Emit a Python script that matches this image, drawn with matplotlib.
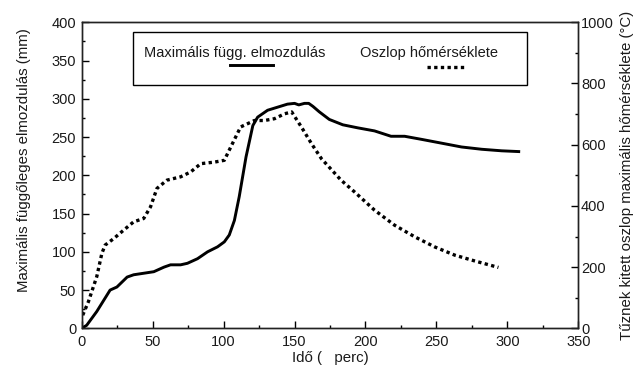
import matplotlib
matplotlib.use("Agg")
import matplotlib.pyplot as plt
from matplotlib.ticker import MultipleLocator
from matplotlib.patches import Rectangle
from matplotlib.lines import Line2D

plt.rcParams['font.family'] = ['Liberation Sans', 'DejaVu Sans']

# Data
time_disp = [0, 3.5, 10.6, 20, 24.8, 32, 36.6, 43.7, 50.8, 58, 62.6, 69.7, 74.5, 81.6,
             88.7, 95.7, 100.5, 104, 107.6, 111, 115.8, 120.6, 124, 131, 138, 145, 150,
             153, 157, 160, 163, 167.4, 174.5, 184, 194.6, 206.4, 218, 227.6, 239.4,
             253.6, 267.7, 282, 296, 308]
disp_mm = [0, 4, 22, 50, 54, 67, 70, 72, 74, 80, 83, 83, 85, 91,
           100, 106.5, 113, 122, 141, 172, 224, 265, 276, 285, 289, 293, 294,
           292, 294, 294, 290, 283, 273, 266, 262, 258, 251, 251, 247,
           242, 237, 234, 232, 231]

time_temp = [0.7, 4.7, 10.6, 14.2, 16.5, 22.5, 29.6, 36.6, 43.7, 48.5, 53, 60, 69.7,
             76.8, 83.9, 93.4, 100.5, 105, 112, 121.7, 128.8, 135.9, 143, 148, 154.8,
             162, 169, 182.8, 192.2, 206.4, 220.5, 234.7, 248.8, 263, 277.1, 293.7]
temp_c = [43, 87, 169, 245, 272, 293, 321, 348, 359, 397, 457, 484, 495,
          511, 538, 543, 549, 592, 658, 679, 679, 685, 701, 707, 658,
          603, 554, 484, 446, 386, 337, 299, 266, 239, 220, 199]

x_ticks = [0, 50, 100, 150, 200, 250, 300, 350]
left_ticks = [0, 50, 100, 150, 200, 250, 300, 350, 400]
right_ticks = [0, 200, 400, 600, 800, 1000]

label_disp = "Maximális függ. elmozdulás"
label_temp = "Oszlop hőmérséklete"

TXT = '#1a1a1a'
DOTS = (0, (1, 1.0))

fig = plt.figure(figsize=(6.4, 3.71), dpi=100)
ax = fig.add_axes([0.1277, 0.115, 0.7759, 0.825])
ax2 = ax.twinx()

ax.plot(time_disp, disp_mm, color='black', lw=2.1, solid_joinstyle='round')
ax2.plot(time_temp, temp_c, color='black', lw=2.4, linestyle=DOTS)

ax.set_xlim(0, 350)
ax.set_ylim(0, 400)
ax2.set_ylim(0, 1000)

ax.set_xticks(x_ticks)
ax.set_yticks(left_ticks)
ax2.set_yticks(right_ticks)
ax.xaxis.set_minor_locator(MultipleLocator(25))
ax.yaxis.set_minor_locator(MultipleLocator(25))
ax2.yaxis.set_minor_locator(MultipleLocator(100))

for a in (ax, ax2):
    for s in a.spines.values():
        s.set_linewidth(1.0)
        s.set_color('#222222')

ax.tick_params(axis='both', which='major', direction='in', length=5, width=1.0,
               labelsize=10.5, pad=3, top=False, right=False, labelcolor=TXT)
ax.tick_params(axis='both', which='minor', direction='in', length=2.5, width=1.0,
               top=False, right=False)
ax.tick_params(axis='y', which='major', pad=4)
ax.tick_params(axis='x', which='major', pad=5)
ax2.tick_params(axis='y', which='major', direction='in', length=5, width=1.0,
                labelsize=10.5, pad=2, labelcolor=TXT)
ax2.tick_params(axis='y', which='minor', direction='in', length=2.5, width=1.0)

ax.set_xlabel("Idő (   perc)", fontsize=10.8, labelpad=1, color=TXT)
ax.set_ylabel("Maximális függőleges elmozdulás (mm)", fontsize=10.8, color=TXT)
ax.yaxis.set_label_coords(-0.103, 0.55)
ax2.set_ylabel("Tűznek kitett oszlop maximális hőmérséklete (°C)", fontsize=10.8,
               labelpad=4, color=TXT)

# Legend box drawn manually
ax.add_patch(Rectangle((0.1027, 0.7935), 0.7943, 0.1755, transform=ax.transAxes,
                       fill=False, edgecolor='black', lw=1.0, zorder=5))
ax.text(0.1255, 0.90, label_disp, transform=ax.transAxes, fontsize=10.5,
        va='center', ha='left', color=TXT)
ax.text(0.560, 0.90, label_temp, transform=ax.transAxes, fontsize=10.5,
        va='center', ha='left', color=TXT)
ax.add_line(Line2D([0.2987, 0.3858], [0.86, 0.86], transform=ax.transAxes,
                   color='black', lw=2.1))
ax.add_line(Line2D([0.696, 0.770], [0.855, 0.855], transform=ax.transAxes,
                   color='black', lw=2.4, linestyle=DOTS))

fig.savefig("out.png", dpi=100)
